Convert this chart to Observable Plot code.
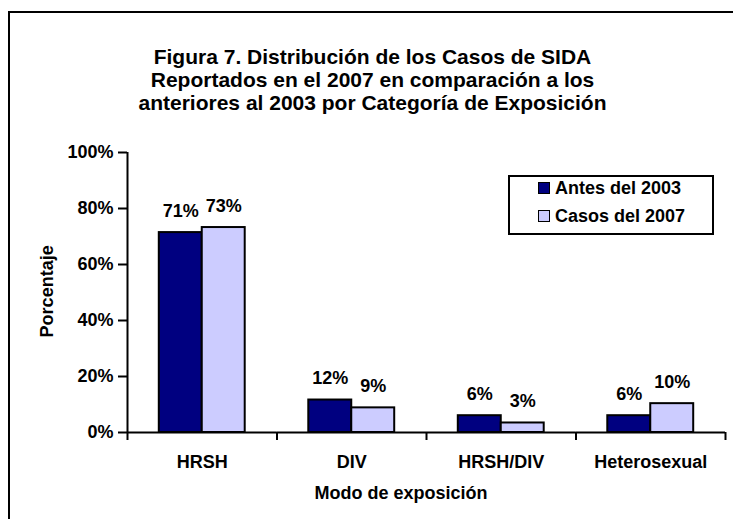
<!DOCTYPE html>
<html>
<head>
<meta charset="utf-8">
<script src="https://cdn.jsdelivr.net/npm/d3@7"></script>
<script src="https://cdn.jsdelivr.net/npm/@observablehq/plot@0.6"></script>
<style>
  html, body { margin: 0; padding: 0; background: #fff; }
  body { width: 733px; height: 519px; overflow: hidden; position: relative;
         font-family: "Liberation Sans", Arial, sans-serif; font-weight: bold; color: #000; }
  .abs { position: absolute; white-space: nowrap; }
  #frame { position: absolute; left: 8px; top: 11px; width: 900px; height: 700px; border: 2px solid #000; box-sizing: border-box; }
  #title { left: 0; width: 745px; top: 44.5px; text-align: center; font-size: 21px; line-height: 23.3px; }
  #xlabel { left: 301px; width: 200px; top: 483.4px; text-align: center; font-size: 18px; line-height: 1.15; }
  #ylabel { width: 200px; text-align: center; font-size: 18px; line-height: 20.7px; height: 20.7px;
            left: -53px; top: 281.35px; transform: rotate(-90deg); transform-origin: 100px 10.35px; }
  #chart { position: absolute; left: 0; top: 140px; }
  #legend { position: absolute; left: 508px; top: 175px; width: 206px; height: 60px; border: 2px solid #000; box-sizing: border-box; background: #fff; }
  .row { position: absolute; font-size: 18px; line-height: 1.15; white-space: nowrap; }
  .sw { display: inline-block; width: 10px; height: 10px; border: 1.5px solid #000; margin-right: 5px; vertical-align: baseline; }
</style>
</head>
<body>
<div id="frame"></div>
<div id="title" class="abs"></div>
<div id="ylabel" class="abs"></div>
<div id="xlabel" class="abs"></div>
<div id="chart"></div>
<div id="legend"></div>
<script>
// ---- data ----
const titleLines = [
  "Figura 7. Distribución de los Casos de SIDA",
  "Reportados en el 2007 en comparación a los",
  "anteriores al 2003 por Categoría de Exposición"
];
const yAxisTitle = "Porcentaje";
const xAxisTitle = "Modo de exposición";
const categories = ["HRSH", "DIV", "HRSH/DIV", "Heterosexual"];
const series = ["Antes del 2003", "Casos del 2007"];
const antes = [71.4, 11.6, 6.0, 6.0];
const casos = [73.2, 8.8, 3.4, 10.3];
const yTicks = [0, 20, 40, 60, 80, 100];
const colors = ["#000080", "#CCCCFF"];

// ---- table ----
const values = [antes, casos];
const data = [];
categories.forEach((c, i) => series.forEach((s, j) => data.push({cat: c, series: s, value: values[j][i]})));

// ---- layout ----
const W = 733, H = 379;
const mL = 127, mR = 8, mT = 12, mB = 87;
const padOuter = 0.74;
const facetW = (W - mL - mR) / categories.length;
const step = facetW / (series.length + 2 * padOuter);
const edgeOff = (padOuter + 0.5) * step; // from first/last bar center to facet edge

const leftTicks = categories.map(c => ({cat: c, s: series[0]}));
const rightTick = [{cat: categories[categories.length - 1], s: series[series.length - 1]}];
const yAxisLine = [{cat: categories[0], s: series[0]}];

document.getElementById("title").innerHTML = titleLines.join("<br>");
document.getElementById("ylabel").textContent = yAxisTitle;
document.getElementById("xlabel").textContent = xAxisTitle;

const legend = document.getElementById("legend");
series.forEach((s, i) => {
  const row = document.createElement("div");
  row.className = "row";
  row.style.left = (538 - 510) + "px";
  row.style.top = (195 + i * 27.7 - 16.6 - 177) + "px";
  const sw = document.createElement("span");
  sw.className = "sw";
  sw.style.background = colors[i];
  row.appendChild(sw);
  row.appendChild(document.createTextNode(s));
  legend.appendChild(row);
});

const chart = Plot.plot({
  width: W, height: H,
  marginLeft: mL, marginRight: mR, marginTop: mT, marginBottom: mB,
  style: {fontFamily: '"Liberation Sans", Arial, sans-serif', fontSize: "18px", fontWeight: "bold", color: "#000", background: "transparent"},
  fx: {domain: categories, padding: 0, round: false, axis: null},
  x: {domain: series, paddingInner: 0, paddingOuter: padOuter, round: false, axis: null},
  y: {domain: [0, 100], axis: null},
  color: {domain: series, range: colors},
  marks: [
    Plot.barY(data, {fx: "cat", x: "series", y: "value", fill: "series", stroke: "#000", strokeWidth: 2}),
    Plot.ruleY([0], {stroke: "#000", strokeWidth: 2}),
    Plot.ruleX(yAxisLine, {fx: "cat", x: "s", y1: 0, y2: 100, dx: -edgeOff, stroke: "#000", strokeWidth: 2}),
    Plot.ruleX(leftTicks, {fx: "cat", x: "s", y1: 0, y2: 0, insetBottom: -8, dx: -edgeOff, stroke: "#000", strokeWidth: 2}),
    Plot.ruleX(rightTick, {fx: "cat", x: "s", y1: 0, y2: 0, insetBottom: -8, dx: edgeOff, stroke: "#000", strokeWidth: 2}),
    Plot.axisY({ticks: yTicks, tickFormat: d => d + "%", tickSize: 9, tickPadding: 5, strokeWidth: 2, label: null, fontSize: 18, fontWeight: "bold"}),
    Plot.axisFx({anchor: "bottom", tickSize: 0, tickPadding: 23, label: null, fontSize: 18, fontWeight: "bold"}),
    Plot.text(data, {fx: "cat", x: "series", y: "value", text: d => Math.round(d.value) + "%", dy: -16, lineAnchor: "bottom", fontSize: 18, fontWeight: "bold", fill: "#000"})
  ]
});
document.getElementById("chart").appendChild(chart);
</script>
</body>
</html>
